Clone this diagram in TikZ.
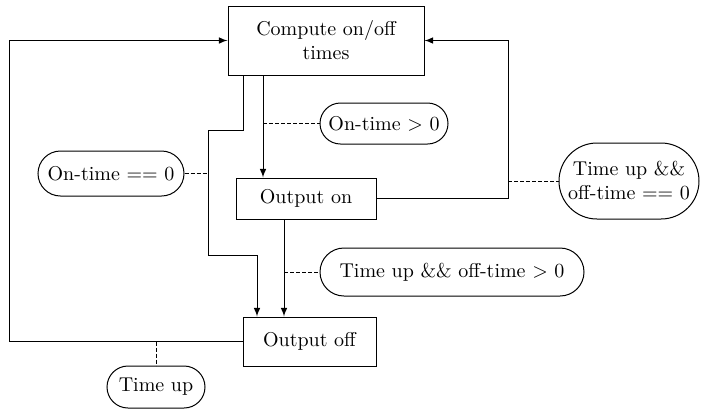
\documentclass[tikz,border=0pt]{standalone}
\usepackage{tikz}
\usetikzlibrary{shapes,arrows,positioning,calc}

\begin{document}
\begin{tikzpicture}[x=0.5pt,y=-0.5pt,>=latex,line width=0.5pt,
  box/.style={rectangle,draw,align=center,inner sep=0pt},
  cond/.style={rounded rectangle,draw,align=center,inner sep=1pt},
  hint/.style={dashed,dash pattern=on 2pt off 1pt,line width=0.4pt}]
\useasboundingbox (0,0) rectangle (702,409);

% states
\node[box,minimum width=98pt,minimum height=34.5pt] (compute) at (326,40.5)
  {Compute on/off\\times};
\node[box,minimum width=70pt,minimum height=20.5pt] (onbox) at (306,198.5) {Output on};
\node[box,minimum width=66.5pt,minimum height=24.5pt] (offbox) at (309.5,341.5) {Output off};

% conditions
\node[cond,minimum width=66pt,minimum height=20.5pt] (ontrue) at (384,123.5) {On-time $>$ 0};
\node[cond,minimum width=75pt,minimum height=22.5pt] (onzero) at (111,173.5) {On-time == 0};
\node[cond,minimum width=72pt,minimum height=38pt] (offzero) at (629,181)
  {Time up \&\&\\off-time == 0};
\node[cond,minimum width=134pt,minimum height=24pt] (offpos) at (452,272)
  {Time up \&\& off-time $>$ 0};
\node[cond,minimum width=51pt,minimum height=21pt] (timeup) at (156,387) {Time up};

% bends of the connectors
\coordinate (a1) at (243,130);
\coordinate (a2) at (208,255);
\coordinate (a3) at (257,255);
\coordinate (b1) at (263,0);
\coordinate (d1) at (284,0);
\coordinate (rt) at (508,0);
\coordinate (lf) at (9,0);

\draw[->] (compute.south -| a1) -- (a1) -| (a2) -- (a3) -- (a3 |- offbox.north);
\draw[->] (compute.south -| b1) -- (onbox.north -| b1);
\draw[->] (onbox.east) -| (rt |- compute.east) -- (compute.east);
\draw[->] (onbox.south -| d1) -- (offbox.north -| d1);
\draw[->] (offbox.west) -| (lf |- compute.west) -- (compute.west);

% condition labels
\draw[hint] (b1 |- ontrue.west) -- (ontrue.west);
\draw[hint] (onzero.east) -- (a2 |- onzero.east);
\draw[hint] (rt |- offzero.west) -- (offzero.west);
\draw[hint] (d1 |- offpos.west) -- (offpos.west);
\draw[hint] (timeup.north |- offbox.west) -- (timeup.north);
\end{tikzpicture}
\end{document}
